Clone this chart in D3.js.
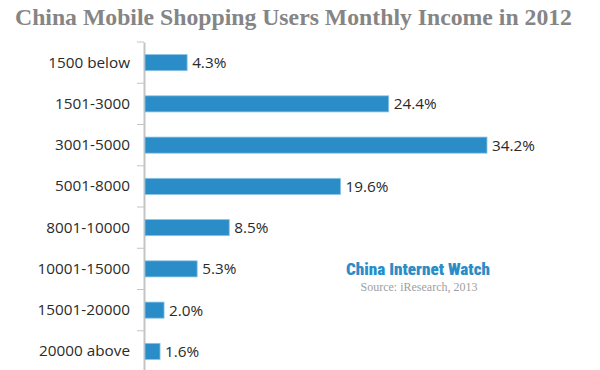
<!DOCTYPE html>
<html><head><meta charset="utf-8">
<script src="https://cdn.jsdelivr.net/npm/d3@7"></script>
<style>body{margin:0;background:#fff}svg{display:block}</style>
</head><body>
<script>
const categories = ["1500 below","1501-3000","3001-5000","5001-8000","8001-10000","10001-15000","15001-20000","20000 above"];
const values = [4.3,24.4,34.2,19.6,8.5,5.3,2.0,1.6];
const valueLabels = ["4.3%","24.4%","34.2%","19.6%","8.5%","5.3%","2.0%","1.6%"];
const title = "China Mobile Shopping Users Monthly Income in 2012";

const W=600,H=370;
const svg=d3.select("body").append("svg").attr("width",W).attr("height",H);
const x=d3.scaleLinear().domain([0,34.2]).range([144,487]);
const y=d3.scaleBand().domain(categories).range([42,372]).paddingInner(0.61).paddingOuter(0.305);

svg.append("text").attr("x",15).attr("y",25).text(title)
  .attr("font-family","'Liberation Serif',serif").attr("font-weight","bold")
  .attr("font-size",23).attr("fill","#858585").attr("textLength",557).attr("lengthAdjust","spacingAndGlyphs");

const axis=d3.axisLeft(y).tickSize(0).tickPadding(14);
const g=svg.append("g").attr("transform","translate(144,0)").call(axis);
g.select(".domain").attr("stroke","#c4c4c4").attr("stroke-width",2);
g.selectAll("text").attr("font-family","'Open Sans',sans-serif").attr("font-size",15.3).attr("fill","#2a2a2a");
const st=y.step();
const bounds=categories.map(c=>y(c)-st*y.paddingInner()/2);
bounds.push(y(categories[categories.length-1])+y.bandwidth()+st*y.paddingInner()/2);
svg.selectAll("line.tk").data(bounds).enter().append("line")
  .attr("x1",137).attr("x2",144).attr("y1",d=>d).attr("y2",d=>d).attr("stroke","#c4c4c4").attr("stroke-width",1);

svg.selectAll("rect.bar").data(values).enter().append("rect")
  .attr("x",x(0)+1).attr("y",(d,i)=>y(categories[i]))
  .attr("width",d=>x(d)-x(0)-1).attr("height",y.bandwidth())
  .attr("fill","#2a8dc8").attr("stroke","#8cc3e6").attr("stroke-width",0.8);

svg.selectAll("text.val").data(values).enter().append("text")
  .attr("x",d=>x(d)+5).attr("y",(d,i)=>y(categories[i])+y.bandwidth()/2)
  .attr("dy","0.36em").text((d,i)=>valueLabels[i])
  .attr("font-family","'Open Sans',sans-serif").attr("font-size",15.3).attr("fill","#2a2a2a");

svg.append("text").attr("x",418).attr("y",275).attr("text-anchor","middle").text("China Internet Watch")
  .attr("font-family","'Roboto Condensed','Liberation Sans Narrow',sans-serif").attr("font-weight",900)
  .attr("font-size",16).attr("fill","#2a8dc8").attr("textLength",144).attr("lengthAdjust","spacingAndGlyphs");
svg.append("text").attr("x",419).attr("y",291).attr("text-anchor","middle").text("Source: iResearch, 2013")
  .attr("font-family","'Liberation Serif',serif").attr("font-size",12).attr("fill","#a0a0a0");
</script>
</body></html>
